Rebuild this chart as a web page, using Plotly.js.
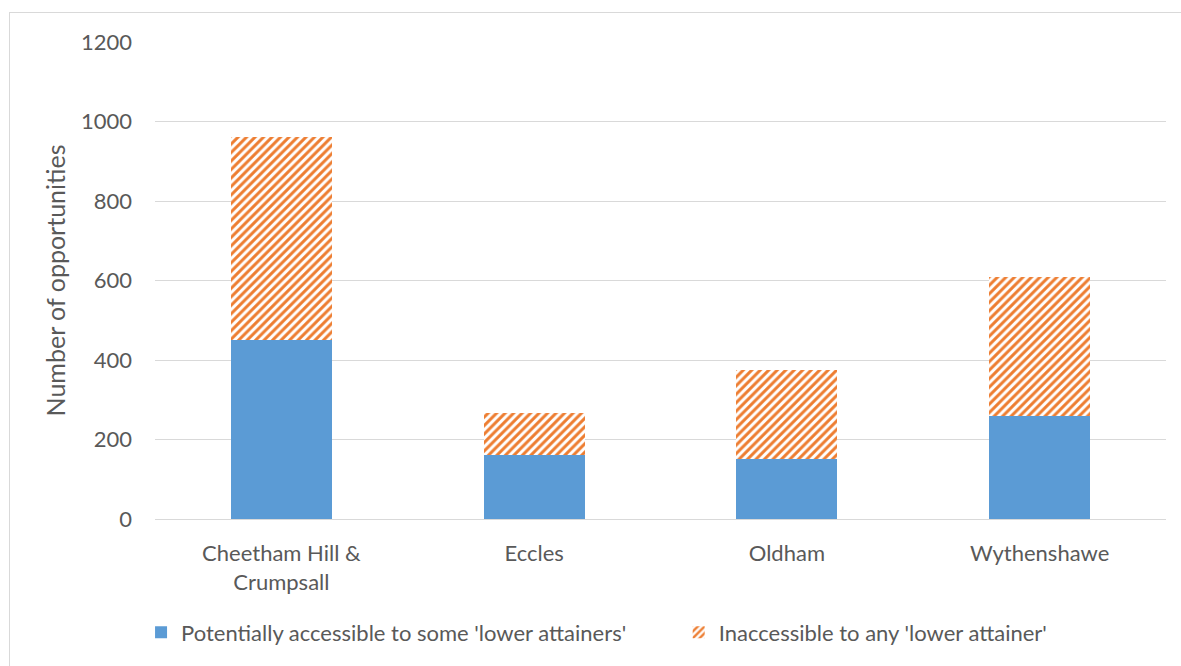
<!DOCTYPE html>
<html>
<head>
<meta charset="utf-8">
<script src="https://cdn.plot.ly/plotly-3.0.1.min.js"></script>
<style>
  html, body { margin: 0; padding: 0; background: #fff; }
  #wrap { position: relative; width: 1181px; height: 666px; overflow: hidden; }
  #frame { position: absolute; left: 9px; top: 12px; width: 1200px; height: 700px;
           border-left: 1px solid #d9d9d9; border-top: 1px solid #d9d9d9; box-sizing: border-box; }
  #chart { position: absolute; left: 0; top: 0; width: 1181px; height: 666px; }
</style>
</head>
<body>
<div id="wrap">
  <div id="frame"></div>
  <div id="chart"></div>
</div>
<script>
const categories = ['Cheetham Hill &<br>Crumpsall', 'Eccles', 'Oldham', 'Wythenshawe'];
const accessible = [450, 160, 150, 259];
const inaccessible = [512, 106, 226, 350];
const seriesNames = ["Potentially accessible to some 'lower attainers'", "Inaccessible to any 'lower attainer'"];
const yTicks = [0, 200, 400, 600, 800, 1000, 1200];

const font = "Lato, 'Open Sans', sans-serif";
const grey = '#595959';

const traces = [
  {
    type: 'bar', x: categories, y: accessible, name: seriesNames[0],
    marker: { color: '#5B9BD5', line: { width: 0 } },
    legend: 'legend',
    hoverinfo: 'skip'
  },
  {
    type: 'bar', x: categories, y: inaccessible, name: seriesNames[1],
    marker: {
      color: '#ffffff',
      line: { width: 0 },
      pattern: { shape: '/', fgcolor: '#ED7D31', bgcolor: '#ffffff', size: 6, solidity: 0.5, fillmode: 'replace' }
    },
    legend: 'legend2',
    hoverinfo: 'skip'
  }
];

const legendBase = {
  orientation: 'h', xanchor: 'left', y: -0.238, yanchor: 'middle',
  font: { size: 22, color: grey }, itemwidth: 30, bgcolor: 'rgba(0,0,0,0)'
};

const layout = {
  width: 1181, height: 666,
  paper_bgcolor: 'rgba(0,0,0,0)', plot_bgcolor: 'rgba(0,0,0,0)',
  margin: { l: 155, r: 15, t: 42, b: 145 },
  barmode: 'stack',
  bargap: 0.6,
  font: { family: font, color: grey, size: 22 },
  showlegend: true,
  xaxis: {
    showgrid: false, showline: true, linecolor: '#d9d9d9', linewidth: 1,
    ticks: '', tickfont: { size: 22, color: grey }, ticklabelstandoff: 15
  },
  yaxis: {
    range: [0, 1200], tickvals: yTicks, ticktext: yTicks.map(String),
    showgrid: true, gridcolor: '#d9d9d9', gridwidth: 1, zeroline: false,
    showline: false, ticks: '', tickfont: { size: 22, color: grey },
    ticklabelstandoff: 22,
    title: { text: 'Number of opportunities', font: { size: 25, color: grey }, standoff: 8 }
  },
  legend: Object.assign({}, legendBase, { x: -0.0138 }),
  legend2: Object.assign({}, legendBase, { x: 0.518 })
};

Plotly.newPlot('chart', traces, layout, { displayModeBar: false, staticPlot: true });
</script>
</body>
</html>
